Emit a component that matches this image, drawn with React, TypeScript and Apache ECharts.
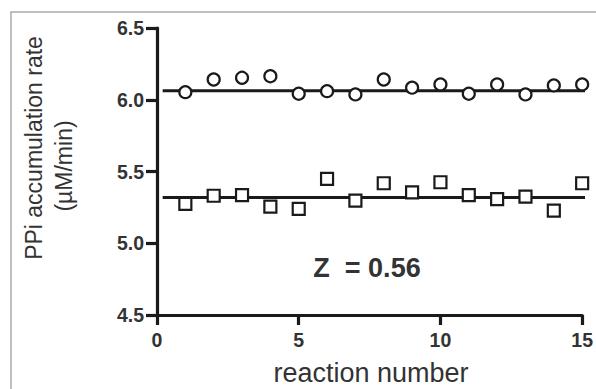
import React, { useEffect, useRef } from "react";
import * as echarts from "echarts";

const reactions = [1, 2, 3, 4, 5, 6, 7, 8, 9, 10, 11, 12, 13, 14, 15];
const circleValues = [6.053, 6.141, 6.153, 6.164, 6.042, 6.06, 6.037, 6.141, 6.084, 6.107, 6.042, 6.107, 6.037, 6.1, 6.107];
const squareValues = [5.274, 5.331, 5.336, 5.255, 5.239, 5.448, 5.297, 5.418, 5.355, 5.425, 5.336, 5.308, 5.325, 5.227, 5.418];
const circleMean = 6.063;
const squareMean = 5.318;
const fitRange = [0.2, 15.2];
const yTicks = { min: 4.5, max: 6.5, interval: 0.5 };
const xTicks = { min: 0, max: 15, interval: 5 };
const zLabel = "Z  = 0.56";

const FONT = "'Liberation Sans', Arial, sans-serif";

export default function App() {
  const ref = useRef<HTMLDivElement>(null);
  useEffect(() => {
    if (!ref.current) return;
    const chart = echarts.init(ref.current, null, { renderer: "svg" });
    chart.setOption({
      animation: false,
      backgroundColor: "#fff",
      grid: { left: 157, right: 10, top: 28, bottom: 74, containLabel: false },
      xAxis: {
        type: "value",
        min: xTicks.min,
        max: xTicks.max,
        interval: xTicks.interval,
        splitLine: { show: false },
        axisLine: { show: true, lineStyle: { color: "#1a1a1a", width: 3.2 } },
        axisTick: { show: true, length: 10, inside: false, lineStyle: { color: "#1a1a1a", width: 3.2 } },
        axisLabel: { color: "#333", fontFamily: FONT, fontWeight: "bold", fontSize: 19.5, margin: 15 },
      },
      yAxis: {
        type: "value",
        min: yTicks.min,
        max: yTicks.max,
        interval: yTicks.interval,
        splitLine: { show: false },
        axisLine: { show: true, lineStyle: { color: "#1a1a1a", width: 3.2 } },
        axisTick: { show: true, length: 11, lineStyle: { color: "#1a1a1a", width: 3.2 } },
        axisLabel: {
          color: "#333",
          fontFamily: FONT,
          fontWeight: "bold",
          fontSize: 19.5,
          margin: 13,
          formatter: (v: number) => v.toFixed(1),
        },
      },
      graphic: [
        {
          type: "rect",
          shape: { x: 11, y: 12, width: 600, height: 400 },
          style: { fill: "none", stroke: "#aaa", lineWidth: 1.5 },
          silent: true,
        },
        {
          type: "text",
          x: 34,
          y: 148,
          rotation: Math.PI / 2,
          style: {
            text: "PPi accumulation rate",
            fontFamily: FONT,
            fontSize: 23,
            fill: "#333",
            textAlign: "center",
            textVerticalAlign: "middle",
          },
        },
        {
          type: "text",
          x: 64,
          y: 166,
          rotation: Math.PI / 2,
          style: {
            text: "(µM/min)",
            fontFamily: FONT,
            fontSize: 23,
            fill: "#333",
            textAlign: "center",
            textVerticalAlign: "middle",
          },
        },
        {
          type: "text",
          x: 371,
          y: 373,
          style: {
            text: "reaction number",
            fontFamily: FONT,
            fontSize: 27,
            fill: "#333",
            textAlign: "center",
            textVerticalAlign: "middle",
          },
        },
        {
          type: "text",
          x: 367,
          y: 268,
          style: {
            text: zLabel,
            fontFamily: FONT,
            fontSize: 27,
            fontWeight: "bold",
            fill: "#333",
            textAlign: "center",
            textVerticalAlign: "middle",
          },
        },
      ],
      series: [
        {
          type: "line",
          data: [[fitRange[0], circleMean], [fitRange[1], circleMean]],
          symbol: "none",
          clip: false,
          lineStyle: { color: "#1a1a1a", width: 3 },
          z: 2,
        },
        {
          type: "line",
          data: [[fitRange[0], squareMean], [fitRange[1], squareMean]],
          symbol: "none",
          clip: false,
          lineStyle: { color: "#1a1a1a", width: 3 },
          z: 2,
        },
        {
          type: "scatter",
          data: reactions.map((r, i) => [r, circleValues[i]]),
          symbol: "circle",
          symbolSize: 12,
          itemStyle: { color: "#fff", borderColor: "#1a1a1a", borderWidth: 2.2, opacity: 1 },
          z: 3,
        },
        {
          type: "scatter",
          data: reactions.map((r, i) => [r, squareValues[i]]),
          symbol: "rect",
          symbolSize: 12,
          itemStyle: { color: "#fff", borderColor: "#1a1a1a", borderWidth: 2.2, opacity: 1 },
          z: 3,
        },
      ],
    });
    return () => chart.dispose();
  }, []);
  return <div ref={ref} style={{ width: 596, height: 389, position: "absolute", left: 0, top: 0 }} />;
}
